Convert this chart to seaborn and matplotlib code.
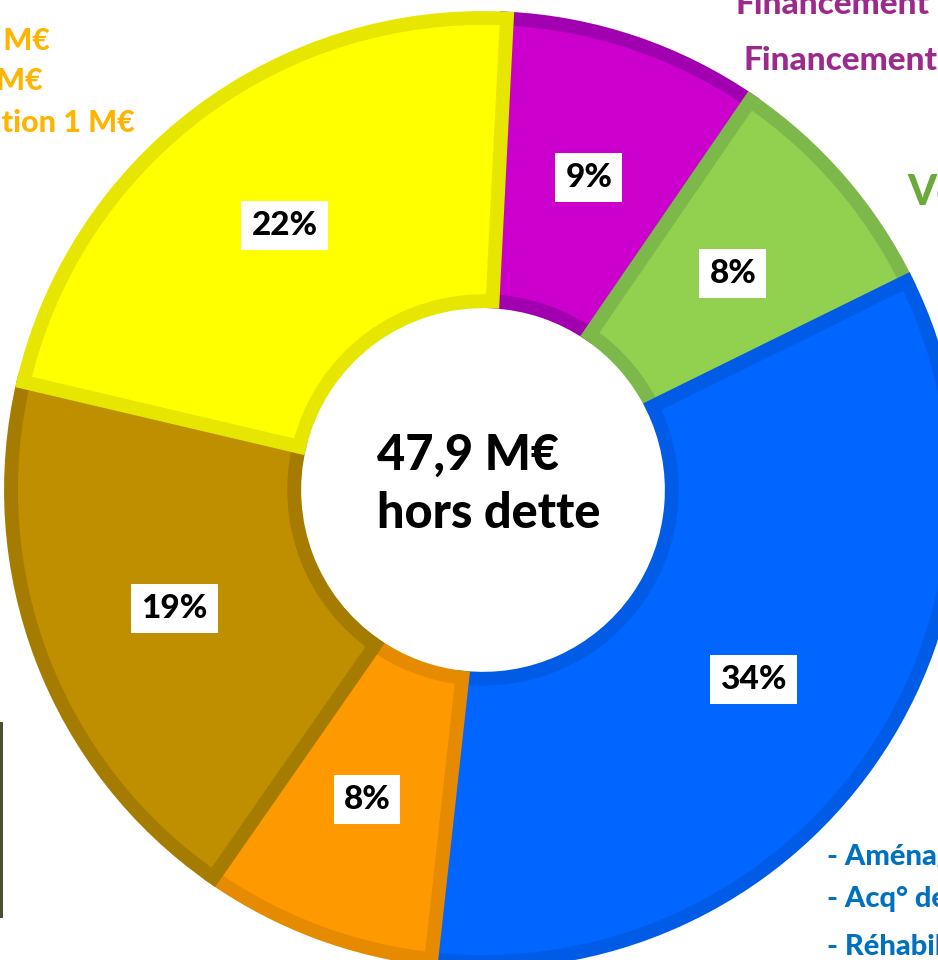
import matplotlib
matplotlib.use("Agg")
import matplotlib.pyplot as plt
from matplotlib.patches import Rectangle
import seaborn as sns

segments = ["Financement", "Voirie", "Aménagement", "Orange", "Brun", "Jaune"]
values = [4.2, 3.9, 16.3, 3.8, 9.1, 10.6]
face_colors = ["#CC00CC", "#92D050", "#0066FF", "#FF9900", "#BF8F00", "#FFFF00"]
edge_colors = ["#A000B0", "#7DB84A", "#005CE6", "#E68A00", "#A67C00", "#E6E600"]
center_lines = ["47,9 M€", "hors dette"]

yellow_notes = ["- Équipements 1 M€", "- Écoles 2 M€", "- Restauration 1 M€"]
purple_notes = ["Financement", "Financement"]
green_notes = ["Voirie"]
blue_notes = ["- Aménagements", "- Acq° de terrains", "- Réhabilitation"]

# --- Layout (pixels of the 938x960 picture) ---
W, H = 938, 960
CX, CY, R = 483, 490, 472
HEAVY = 900

sns.set_theme(style="white")
plt.rcParams["font.family"] = ["Lato", "DejaVu Sans"]

fig = plt.figure(figsize=(W / 100, H / 100), dpi=100)
ax = fig.add_axes([0, 0, 1, 1])

wedges, texts, autotexts = ax.pie(
    values,
    colors=face_colors,
    startangle=87.1,
    counterclock=False,
    radius=1.0,
    wedgeprops=dict(width=0.6, linewidth=10),
    autopct=lambda p: f"{p:.0f}%",
    pctdistance=0.70,
    textprops=dict(fontsize=24, fontweight=HEAVY, color="black"),
)
for w, ec in zip(wedges, edge_colors):
    w.set_edgecolor(ec)
    w.set_clip_path(w)  # keep the border inside each wedge
for t in autotexts:
    t.set_bbox(dict(boxstyle="square,pad=0.3", fc="white", ec="none"))

ax.set_xlim(-CX / R, (W - CX) / R)
ax.set_ylim(-(H - CY) / R, CY / R)
ax.set_aspect("auto")
ax.axis("off")


def fx(x):
    return x / W


def fy(y):
    return 1 - y / H


# centre text
fig.text(fx(377), fy(470), center_lines[0], fontsize=35, fontweight=HEAVY,
         ha="left", va="baseline", color="black")
fig.text(fx(377), fy(528), center_lines[1], fontsize=35, fontweight=HEAVY,
         ha="left", va="baseline", color="black")

# cropped side captions
for txt, xr, yb in zip(yellow_notes, [50, 43, 135], [50, 90, 132]):
    fig.text(fx(xr), fy(yb), txt, fontsize=22, fontweight=HEAVY,
             color="#FFB400", ha="right", va="baseline")
for txt, xl, yb in zip(purple_notes, [735, 743], [14, 70]):
    fig.text(fx(xl), fy(yb), txt, fontsize=24, fontweight=HEAVY,
             color="#9C2A8C", ha="left", va="baseline")
fig.text(fx(907), fy(205), green_notes[0], fontsize=30, fontweight=HEAVY,
         color="#6AAA3A", ha="left", va="baseline")
for txt, yb in zip(blue_notes, [865, 907, 955]):
    fig.text(fx(827), fy(yb), txt, fontsize=21, fontweight=HEAVY,
             color="#0070C0", ha="left", va="baseline")

# edge of a photo at the left border
fig.patches.append(Rectangle((0, fy(918)), fx(3), (918 - 722) / H,
                             transform=fig.transFigure, fc="#4A5030",
                             ec="none", zorder=5))

fig.savefig("out.png", dpi=100, facecolor="white")
